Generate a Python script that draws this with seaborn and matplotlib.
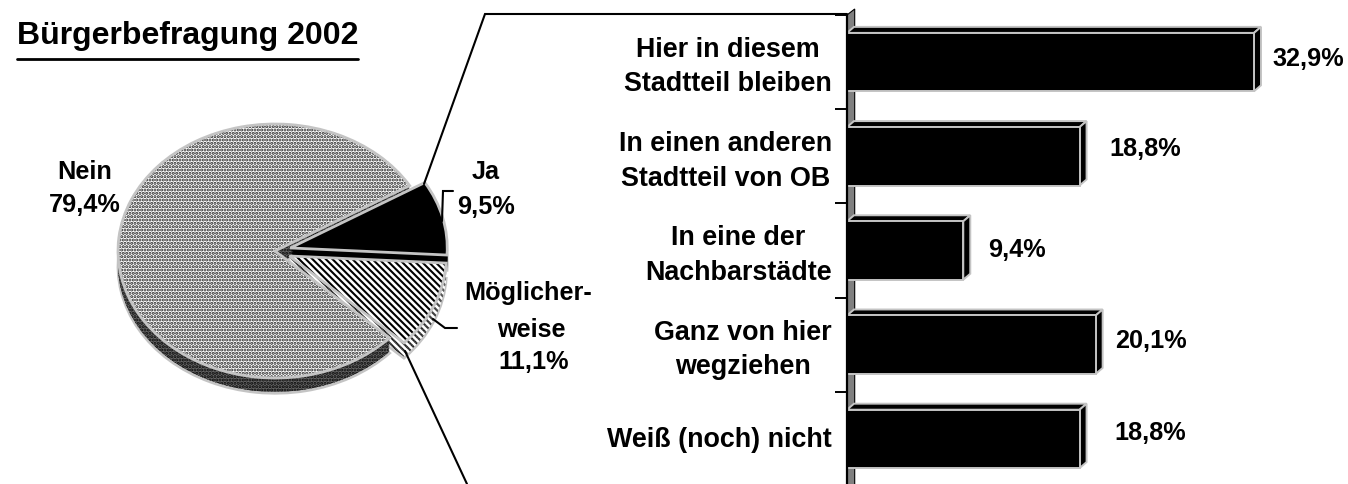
import matplotlib
matplotlib.use("Agg")
import matplotlib.pyplot as plt
from matplotlib.patches import Polygon
from matplotlib.transforms import ScaledTranslation
import seaborn as sns
import pandas as pd

# data
title = "Bürgerbefragung 2002"
pie_labels = ["Nein", "Möglicherweise", "Ja"]
pie_values = [79.4, 11.1, 9.5]
bar_categories = ["Hier in diesem\nStadtteil bleiben", "In einen anderen\nStadtteil von OB",
                  "In eine der\nNachbarstädte", "Ganz von hier\nwegziehen", "Weiß (noch) nicht"]
bar_values = [32.9, 18.8, 9.4, 20.1, 18.8]
bar_texts = ["32,9%", "18,8%", "9,4%", "20,1%", "18,8%"]

W, H = 1348, 485
sns.set_theme(style="white")
plt.rcParams["font.family"] = ["Liberation Sans", "DejaVu Sans"]
plt.rcParams["font.weight"] = "bold"
fig = plt.figure(figsize=(W / 100, H / 100), dpi=100, facecolor="white")


def box(l, t, r, b):
    return [l / W, 1 - b / H, (r - l) / W, (b - t) / H]


GREY = "#c4c4c4"
# ---- pie ----
rx, ry, cx, cy = 157, 127, 275, 252
ax_p = fig.add_axes(box(cx - rx, cy - ry, cx + rx, cy + ry))
explode = [0, 0.1, 0.1]
plt.rcParams["hatch.linewidth"] = 1.5
depth_steps = [0.12 - i * 0.012 for i in range(11)]
side_face = ["#666666", "white", "black"]
side_edge = ["#000000", "#111111", "black"]
side_hatch = [".....", "\\\\\\\\\\", None]
top_face = ["white", "white", "black"]
top_edge = ["#222222", "black", "black"]
top_hatch = [".....", "\\\\\\\\\\", None]


def draw_pie(offset, faces, edges, hatches, lw=0.0, outline=None):
    wedges, _ = ax_p.pie(pie_values, explode=explode, startangle=31, radius=1,
                         center=(0, -offset), counterclock=True,
                         wedgeprops=dict(clip_on=False))
    for w, f, e, h in zip(wedges, faces, edges, hatches):
        w.set_facecolor(f)
        w.set_edgecolor(e)
        w.set_linewidth(lw)
        if h:
            w.set_hatch(h)
    if outline:
        wedges2, _ = ax_p.pie(pie_values, explode=explode, startangle=31, radius=1,
                              center=(0, -offset), wedgeprops=dict(clip_on=False))
        for w in wedges2:
            w.set_facecolor("none")
            w.set_edgecolor(outline)
            w.set_linewidth(2.0)


draw_pie(depth_steps[0], side_face, side_edge, side_hatch, outline=GREY)
for d in depth_steps[1:]:
    draw_pie(d, side_face, side_edge, side_hatch)
draw_pie(0, top_face, top_edge, top_hatch, outline=GREY)
ax_p.set_aspect("auto")
ax_p.set_xlim(-1, 1)
ax_p.set_ylim(-1, 1)
ax_p.axis("off")

# ---- bars ----
ppu = 407 / 32.9
ax_b = fig.add_axes(box(847, 16, W, 487))
ax_b.patch.set_alpha(0)
df = pd.DataFrame({"cat": bar_categories, "val": bar_values})
sns.barplot(data=df, y="cat", x="val", ax=ax_b, color="black", saturation=1, width=0.62,
            edgecolor=GREY, linewidth=1.4, zorder=4)
ax_b.set_xlim(0, (W - 847) / ppu)
ax_b.set_ylim(len(bar_values) - 0.5, -0.5)
ax_b.set_xlabel("")
ax_b.set_ylabel("")
ax_b.set_xticks([])
for s in ["top", "right", "bottom"]:
    ax_b.spines[s].set_visible(False)
ax_b.spines["left"].set_color("black")
ax_b.spines["left"].set_linewidth(1.6)
ax_b.spines["left"].set_zorder(6)
ax_b.tick_params(axis="y", which="major", length=0, pad=11)
ax_b.set_yticks(range(len(bar_categories)))
ax_b.set_yticklabels(bar_categories, fontsize=19.4, fontweight="bold", color="black",
                     multialignment="center", linespacing=1.42)
for lab in ax_b.get_yticklabels():
    lab.set_transform(lab.get_transform() + ScaledTranslation(0, 3 / 100, fig.dpi_scale_trans))
ax_b.set_yticks([i - 0.5 for i in range(len(bar_categories) + 1)], minor=True)
ax_b.tick_params(axis="y", which="minor", length=8.5, width=1.4, color="black", left=True)

dx, dy = 7 / ppu, 6 / 94
# wall
ylo, yhi = ax_b.get_ylim()
ax_b.add_patch(Polygon([(0, yhi), (dx * 1.1, yhi - dy), (dx * 1.1, ylo), (0, ylo)], closed=True,
                       facecolor="#808080", edgecolor="black", lw=0.8, clip_on=False, zorder=1))
for i, (p, v) in enumerate(zip(ax_b.patches, bar_values)):
    top, bottom = p.get_y(), p.get_y() + p.get_height()
    ax_b.add_patch(Polygon([(0, top), (dx, top - dy), (v + dx, top - dy), (v, top)], closed=True,
                           facecolor="black", edgecolor=GREY, lw=1.4, zorder=3, clip_on=False))
    ax_b.add_patch(Polygon([(v, top), (v + dx, top - dy), (v + dx, bottom - dy), (v, bottom)], closed=True,
                           facecolor="black", edgecolor=GREY, lw=1.4, zorder=3, clip_on=False))

# ---- overlay in pixel space ----
ov = fig.add_axes([0, 0, 1, 1])
ov.set_xlim(0, W)
ov.set_ylim(H, 0)
ov.axis("off")
ov.patch.set_alpha(0)
text_kw = dict(fontweight="bold", color="black", ha="center", va="center")
ov.text(17, 36, title, fontsize=23, fontweight="bold", color="black", ha="left", va="center")
ov.plot([17, 358], [60, 60], color="black", lw=2)

for x, y, s in [(1308, 59, bar_texts[0]), (1145, 149, bar_texts[1]), (1017, 250, bar_texts[2]),
                (1151, 341, bar_texts[3]), (1150, 433, bar_texts[4])]:
    ov.text(x, y, s, fontsize=18.2, **text_kw)
for x, y, s in [(85, 172, "Nein"), (85, 205, "79,4%"), (486, 172, "Ja"), (486, 207, "9,5%"),
                (528, 293, "Möglicher-"), (531, 330, "weise"), (534, 362, "11,1%")]:
    ov.text(x, y, s, fontsize=18.2, **text_kw)

for xs, ys in [([424, 485, 847], [185, 15, 15]),
               ([405, 467], [352, 485]),
               ([453, 443, 442], [192, 192, 222]),
               ([433, 445, 457], [320, 329, 329])]:
    ov.plot(xs, ys, color="black", lw=1.5, solid_joinstyle="miter", clip_on=False)

fig.savefig("out.png", dpi=100, facecolor="white")
